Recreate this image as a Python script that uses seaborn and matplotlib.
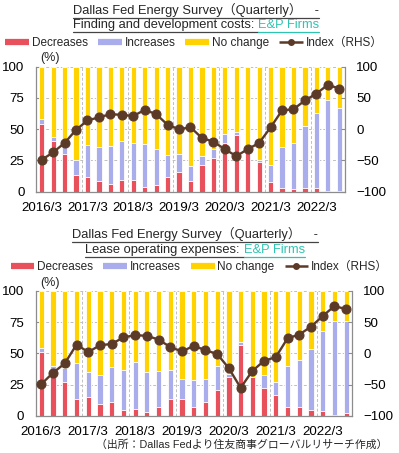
import numpy as np
import pandas as pd
import matplotlib
matplotlib.use("Agg")
import matplotlib.pyplot as plt
from matplotlib.lines import Line2D
import seaborn as sns

# ---------------- data ----------------
quarters = ["2016/3", "2016/6", "2016/9", "2016/12",
            "2017/3", "2017/6", "2017/9", "2017/12",
            "2018/3", "2018/6", "2018/9", "2018/12",
            "2019/3", "2019/6", "2019/9", "2019/12",
            "2020/3", "2020/6", "2020/9", "2020/12",
            "2021/3", "2021/6", "2021/9", "2021/12",
            "2022/3", "2022/6", "2022/9"]
tick_labels = ["2016/3", "2017/3", "2018/3", "2019/3", "2020/3", "2021/3", "2022/3"]

# Finding and development costs
fd_decreases = [54, 40.5, 30, 13.5, 12, 8.5, 6, 9, 9, 3.5, 5, 11.5, 15.7, 8.5, 21, 27,
                38.7, 45, 31, 23.5, 8, 3.2, 2.4, 3.2, 2.7, 0.3, 0.5]
fd_increases = [4, 3, 5.5, 12, 25, 27.5, 30.8, 31.5, 30, 34.4, 29, 18, 14.4, 12.3, 7.5, 7.5,
                7.3, 3, 0.5, 2, 13.3, 32.8, 36.6, 49, 60.5, 73, 66.2]
fd_nochange = [42, 56.5, 64.5, 74.5, 63, 64, 63.2, 59.5, 61, 62.1, 66, 70.5, 69.9, 79.2, 71.5, 65.5,
               54, 52, 68.5, 74.5, 78.7, 64, 61, 47.8, 36.8, 26.7, 33.3]
fd_index = [-49, -37, -22, -1, 14, 19, 24, 23, 21, 31, 24, 7, 0, 3, -14, -20,
            -32, -43, -32, -22, 3, 30, 32, 46, 57, 71, 65]

# Lease operating expenses
lo_decreases = [50.8, 35.5, 27, 13.6, 15.4, 9.6, 11, 5, 5.9, 3.5, 7, 13.3, 13.6, 7.4, 11.4, 20.5,
                31, 56.6, 31, 22.6, 16.8, 7.4, 7.2, 5, 4.3, 0.5, 2.7]
lo_increases = [3.2, 4.5, 11, 28.4, 19.4, 23.1, 27.8, 31.4, 36.9, 31.9, 29.2, 23.7, 15.9, 21.1, 18.1, 19.5,
                2.8, 2.7, 0.3, 10.1, 10.6, 32.6, 37.2, 48.5, 63.5, 75.5, 73]
lo_nochange = [46, 60, 62, 58, 65.2, 67.3, 61.2, 63.6, 57.2, 64.6, 63.8, 63, 70.5, 71.5, 70.5, 60,
               66.2, 40.7, 68.7, 67.3, 72.6, 60, 55.6, 46.5, 32.2, 24, 24.3]
lo_index = [-49, -31, -16, 14, 2, 13, 15, 25.5, 29, 28, 22, 10, 3, 12, 5, -1,
            -24, -55, -28, -12, -6, 24, 30, 42.5, 59.5, 75.5, 70.5]

series_labels = ["Decreases", "Increases", "No change", "Index\uff08RHS\uff09"]

# ---------------- style ----------------
sns.set_style("white")
plt.rcParams["font.family"] = ["Liberation Sans", "Noto Sans CJK JP", "DejaVu Sans"]

RED = "#E8505B"
LAV = "#A9ADEB"
YEL = "#FFD200"
BROWN = "#5C3A28"
TEAL = "#2EC4B2"
GRID = "#C0C0C0"
SPINE = "#8C8C8C"

fig = plt.figure(figsize=(3.99, 4.53), dpi=100)


def panel(rect, dec, inc, noc, idx):
    ax = fig.add_axes(rect)
    n = len(quarters)
    df = pd.DataFrame({"q": quarters, "dec": dec, "inc": inc, "noc": noc})
    df["top_inc"] = df["dec"] + df["inc"]
    df["top_all"] = df["top_inc"] + df["noc"]
    for col, c in (("top_all", YEL), ("top_inc", LAV), ("dec", RED)):
        sns.barplot(data=df, x="q", y=col, order=quarters, color=c, saturation=1,
                    width=0.45, edgecolor="white", linewidth=0.6, errorbar=None, ax=ax)
    ax.set_xlim(-0.5, n - 0.5)
    ax.set_ylim(0, 100)
    ax.set_yticks([0, 25, 50, 75, 100])
    ax.set_xticks(list(range(0, n, 4)))
    ax.set_xticklabels(tick_labels)
    ax.set_xlabel("")
    ax.set_ylabel("")
    ax.set_axisbelow(True)
    ax.yaxis.grid(True, color=GRID, linestyle=(0, (3, 2)), linewidth=0.7)
    for xv in np.arange(3.5, n - 1, 4):
        ax.axvline(xv, color=GRID, linestyle=(0, (3, 2)), linewidth=0.7, zorder=0)
    ax.tick_params(axis="x", length=0, pad=7.5, labelsize=9.6, colors="black")
    ax.tick_params(axis="y", direction="in", length=3, width=0.8, color=SPINE,
                   pad=8.2, labelsize=9.6, labelcolor="black")
    for s in ("top", "right"):
        ax.spines[s].set_visible(False)
    for s in ("left", "bottom"):
        ax.spines[s].set_color(SPINE)
        ax.spines[s].set_linewidth(0.9)

    ax2 = ax.twinx()
    sns.lineplot(x=np.arange(n), y=idx, ax=ax2, color=BROWN, linewidth=1.7,
                 marker="o", markersize=6.5, markeredgecolor=BROWN, markerfacecolor=BROWN)
    ax2.set_ylim(-100, 100)
    ax2.set_yticks([-100, -50, 0, 50, 100])
    ax2.set_ylabel("")
    ax2.tick_params(axis="y", direction="in", length=3, width=0.8, color=SPINE,
                    pad=8.2, labelsize=9.6, labelcolor="black")
    for s in ("top", "left", "bottom"):
        ax2.spines[s].set_visible(False)
    ax2.spines["right"].set_color(SPINE)
    ax2.spines["right"].set_linewidth(0.9)
    ax.set_xlim(-0.5, n - 0.5)
    return ax


W, H = 399.0, 453.0

ax_top = panel([36 / W, 1 - 191.7 / H, (345 - 36) / W, (191.7 - 66.7) / H],
               fd_decreases, fd_increases, fd_nochange, fd_index)
ax_bot = panel([35.5 / W, 1 - 416 / H, (352 - 35.5) / W, (416 - 290.7) / H],
               lo_decreases, lo_increases, lo_nochange, lo_index)

# (%) labels
fig.text(50 / W, 1 - 58 / H, "(%)", ha="center", va="center", fontsize=9)
fig.text(50 / W, 1 - 283 / H, "(%)", ha="center", va="center", fontsize=9)

# legends
handles = [Line2D([], [], color=RED, lw=4.5, solid_capstyle="butt"),
           Line2D([], [], color=LAV, lw=4.5, solid_capstyle="butt"),
           Line2D([], [], color=YEL, lw=4.5, solid_capstyle="butt"),
           Line2D([], [], color=BROWN, lw=1.8, marker="o", markersize=4, solid_capstyle="butt")]
for ly, lx in ((43, 194), (267.3, 199.5)):
    fig.legend(handles, series_labels, loc="center", bbox_to_anchor=(lx / W, 1 - ly / H),
               ncol=4, frameon=False, fontsize=8.5, handlelength=2.0, handletextpad=0.25,
               columnspacing=0.85, borderaxespad=0, borderpad=0)

# titles with underlines
title_line1 = "Dallas Fed Energy Survey\uff08Quarterly\uff09\u3000-"
fd_title2 = "Finding and development costs: "
lo_title2 = "Lease operating expenses: "
link_text = "E&P Firms"
TFS = 9.3

fig.canvas.draw()
renderer = fig.canvas.get_renderer()


def underline(bb, color):
    y = bb.y0 - 1.0
    fig.add_artist(Line2D([bb.x0 / W, bb.x1 / W], [y / H, y / H], color=color, lw=0.9,
                          transform=fig.transFigure))


def title_block(cx, y1, y2, part2):
    t1 = fig.text(cx / W, 1 - y1 / H, title_line1, ha="center", va="center", fontsize=TFS)
    underline(t1.get_window_extent(renderer), "#444444")
    ta = fig.text(0, 1 - y2 / H, part2, ha="left", va="center", fontsize=TFS)
    tb = fig.text(0, 1 - y2 / H, link_text, ha="left", va="center", fontsize=TFS, color=TEAL)
    wa = ta.get_window_extent(renderer).width
    wb = tb.get_window_extent(renderer).width
    x0 = cx - (wa + wb) / 2
    ta.set_x(x0 / W)
    tb.set_x((x0 + wa) / W)
    fig.canvas.draw()
    underline(ta.get_window_extent(renderer), "#444444")
    underline(tb.get_window_extent(renderer), TEAL)


title_block(196, 10, 25, fd_title2)
title_block(195, 234, 250, lo_title2)

fig.text(387 / W, 1 - 444.3 / H,
         "\uff08出所\uff1aDallas Fedより住友商事グローバルリサーチ作成\uff09",
         ha="right", va="center", fontsize=7.8)

fig.savefig("out.png", dpi=100)
